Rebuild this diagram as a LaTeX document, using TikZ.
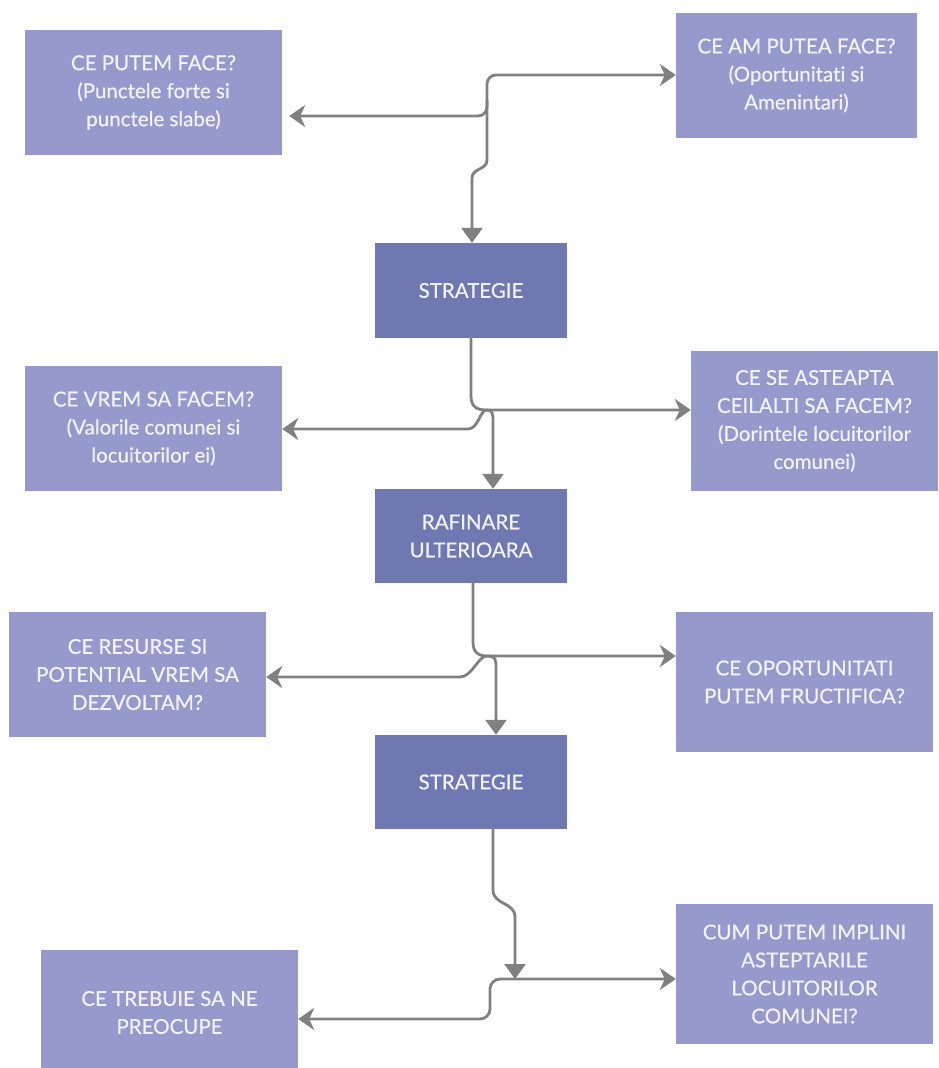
\documentclass[tikz,border=0pt]{standalone}
\usepackage{fontspec}
\setmainfont{Lato}[Ligatures={NoCommon}, FakeBold=0.6]
\usetikzlibrary{arrows.meta}
\definecolor{boxlight}{HTML}{9599CB}
\definecolor{boxdark}{HTML}{6F78B0}
\definecolor{txt}{HTML}{F2F3FA}
\definecolor{linegray}{HTML}{808080}
\tikzset{
  box/.style={fill=boxlight, draw=none, inner sep=0pt, align=center, text=txt,
    font=\fontsize{20.5}{28}\selectfont},
  darkbox/.style={box, fill=boxdark},
  conn/.style={draw=linegray, line width=2.8pt},
  harr/.tip={Stealth[length=16pt,width=22pt,inset=5pt]},
  varr/.tip={Triangle[length=15pt,width=21pt]},
}
\begin{document}
\begin{tikzpicture}[x=1pt,y=-1pt]
\useasboundingbox (0,0) rectangle (938,1068);
\begin{scope}
\clip (0,0) rectangle (938,1068);
\node[box, minimum width=257pt, minimum height=125pt] (b1) at (153.5,92.5) {CE PUTEM FACE?\\(Punctele forte si\\punctele slabe)};
\node[box, minimum width=241pt, minimum height=125pt] (b2) at (796.5,75.5) {CE AM PUTEA FACE?\\(Oportunitati si\\Amenintari)};
\node[darkbox, minimum width=192pt, minimum height=95pt] (s1) at (471,290.5) {STRATEGIE};
\node[box, minimum width=257pt, minimum height=125pt] (b4) at (153.5,428.5) {CE VREM SA FACEM?\\(Valorile comunei si\\locuitorilor ei)};
\node[box, minimum width=247pt, minimum height=140pt] (b5) at (814.5,421) {CE SE ASTEAPTA\\CEILALTI SA FACEM?\\(Dorintele locuitorilor\\comunei)};
\node[darkbox, minimum width=192pt, minimum height=94pt] (r) at (471,536) {RAFINARE\\ULTERIOARA};
\node[box, minimum width=257pt, minimum height=125pt] (b7) at (137.5,674.5) {CE RESURSE SI\\POTENTIAL VREM SA\\DEZVOLTAM?};
\node[box, minimum width=257pt, minimum height=140pt] (b8) at (804.5,682) {CE OPORTUNITATI\\PUTEM FRUCTIFICA?};
\node[darkbox, minimum width=192pt, minimum height=94pt] (s2) at (471,782) {STRATEGIE};
\node[box, minimum width=257pt, minimum height=125pt] (b10) at (169.5,1012.5) {CE TREBUIE SA NE\\PREOCUPE};
\node[box, minimum width=257pt, minimum height=140pt] (b11) at (804.5,974) {CUM PUTEM IMPLINI\\ASTEPTARILE\\LOCUITORILOR\\COMUNEI?};
\end{scope}

% top
\coordinate (j1) at (487,100);
\draw[conn, {harr}-{harr}, rounded corners=9pt, shorten <=7pt] (b1.east |- 0,116) -- (487,116) -- (487,75) -- (b2.west |- 0,75);
\draw[conn, -{varr}] (j1) -- (487,160) .. controls (487,170) and (472,168) .. (472,178) -- (s1.north -| 472,0);

% second
\coordinate (j2) at (486,410);
\draw[conn, -{harr}] (s1.south) -- (471,396) .. controls (471,406) and (476,410) .. (j2) -- (b5.west |- 0,410);
\draw[conn, -{varr}] (j2) .. controls (493,410) and (493,414) .. (493,422) -- (r.north -| 493,0);
\draw[conn, -{harr}] (j2) .. controls (480,411) and (478,429) .. (468,429) -- (b4.east |- 0,429);

% third
\coordinate (j3) at (487,656);
\draw[conn, -{harr}] (r.south -| 473,0) -- (473,642) .. controls (473,652) and (478,656) .. (j3) -- (b8.west |- 0,656);
\draw[conn, -{varr}] (j3) .. controls (496,656) and (496,660) .. (496,668) -- (s2.north -| 496,0);
\draw[conn, -{harr}] (j3) .. controls (478,656) and (472,677) .. (460,677) -- (b7.east |- 0,677);

% bottom
\coordinate (j4) at (515,979);
\draw[conn, -{varr}] (s2.south -| 493,0) -- (493,890) .. controls (493,905) and (515,902) .. (515,917) -- (j4);
\draw[conn, {harr}-{harr}, rounded corners=10pt] (b11.west |- 0,979) -- (490,979) -- (490,1019) -- (b10.east |- 0,1019);
\end{tikzpicture}
\end{document}
